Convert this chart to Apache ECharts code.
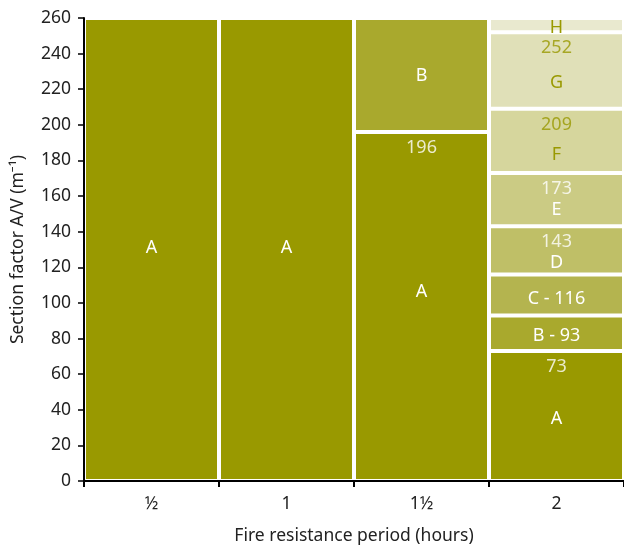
<!DOCTYPE html>
<html>
<head>
<meta charset="utf-8">
<script src="https://cdn.jsdelivr.net/npm/echarts@6/dist/echarts.min.js"></script>
<style>
  html, body { margin: 0; padding: 0; background: #fff; }
  #chart { width: 624px; height: 547px; }
</style>
</head>
<body>
<div id="chart"></div>
<script>
// Fire resistance periods (hours)
const periods = ['½', '1', '1½', '2'];

// Protection zones, bottom to top
const zoneNames = ['A', 'B', 'C', 'D', 'E', 'F', 'G', 'H'];

// Upper section-factor limit of each zone for each period (m⁻¹)
const zoneTopsHalfHour = [260];
const zoneTopsOneHour = [260];
const zoneTopsOneAndHalfHours = [196, 260];
const zoneTopsTwoHours = [73, 93, 116, 143, 173, 209, 252, 260];

// Limits printed just below a zone boundary
const printedLimitsOneAndHalfHours = [196];
const printedLimitsTwoHours = [73, 143, 173, 209, 252];
// Limits printed next to the zone letter
const inlineLimitsTwoHours = [93, 116];

const zoneTops = [zoneTopsHalfHour, zoneTopsOneHour, zoneTopsOneAndHalfHours, zoneTopsTwoHours];
const printedLimits = [[], [], printedLimitsOneAndHalfHours, printedLimitsTwoHours];
const inlineLimits = [[], [], [], inlineLimitsTwoHours];

// Styling
const zoneColors = ['#999900', '#a9a92d', '#b4b44f', '#bfbf67', '#cbcb84', '#d6d69d', '#e0e0b8', '#e9e9cf'];
const OLIVE = '#999900';
const LIGHT_ZONE_FROM = 5; // zones F and up carry olive text
const FONT = '"Noto Sans", Lato, sans-serif';
const AXIS_FS = 17.5;
const MARK_FS = 18;
// vertical nudge of the zone letter inside its block, per period
const letterShift = [
  [-2],
  [-2],
  [-15, 1],
  [3, 3, 4, 12, 10, 14, 12, 3]
];

const textColorForZone = z => (z >= LIGHT_ZONE_FROM ? OLIVE : '#ffffff');

const barSeries = zoneNames.map((name, z) => ({
  type: 'bar',
  name: name,
  stack: 'zones',
  barCategoryGap: '0%',
  itemStyle: { color: zoneColors[z], borderColor: '#ffffff', borderWidth: 2 },
  label: {
    show: true,
    position: 'inside',
    fontFamily: FONT,
    fontSize: MARK_FS,
    color: textColorForZone(z)
  },
  emphasis: { disabled: true },
  data: zoneTops.map((tops, c) => {
    if (z >= tops.length) return '-';
    const low = z === 0 ? 0 : tops[z - 1];
    const top = tops[z];
    const inline = inlineLimits[c].includes(top);
    return {
      value: top - low,
      label: {
        formatter: inline ? name + ' - ' + top : name,
        offset: [0, (letterShift[c] && letterShift[c][z]) || 0]
      }
    };
  })
}));

// Limit values written beneath each boundary
const limitPoints = [];
printedLimits.forEach((limits, c) => {
  limits.forEach(v => {
    const zoneBelow = zoneTops[c].indexOf(v);
    limitPoints.push({
      value: [c, v],
      label: { color: textColorForZone(zoneBelow) }
    });
  });
});

const limitSeries = {
  type: 'scatter',
  symbolSize: 0,
  silent: true,
  z: 5,
  label: {
    show: true,
    position: 'bottom',
    distance: 7,
    fontFamily: FONT,
    fontSize: MARK_FS,
    formatter: p => String(p.value[1])
  },
  data: limitPoints
};

const chart = echarts.init(document.getElementById('chart'), null, { renderer: 'canvas' });
chart.setOption({
  animation: false,
  backgroundColor: '#ffffff',
  grid: { left: 84, right: 0, top: 18, bottom: 66, containLabel: false, outerBoundsMode: 'none' },
  xAxis: {
    type: 'category',
    data: periods,
    name: 'Fire resistance period (hours)',
    nameLocation: 'middle',
    nameGap: 46,
    nameTextStyle: { fontFamily: FONT, fontSize: AXIS_FS, color: '#222' },
    axisLine: { lineStyle: { color: '#000', width: 2 } },
    axisTick: { show: true, length: 6, lineStyle: { color: '#000', width: 2 } },
    axisLabel: { fontFamily: FONT, fontSize: AXIS_FS, color: '#222', margin: 14 },
    splitLine: { show: false },
    z: 10
  },
  yAxis: {
    type: 'value',
    min: 0,
    max: 260,
    interval: 20,
    name: 'Section factor A/V (m⁻¹)',
    nameLocation: 'middle',
    nameGap: 57,
    nameRotate: 90,
    nameTextStyle: { fontFamily: FONT, fontSize: AXIS_FS, color: '#222' },
    axisLine: { show: true, lineStyle: { color: '#000', width: 2 } },
    axisTick: { show: true, length: 6, lineStyle: { color: '#000', width: 1.5 } },
    axisLabel: { fontFamily: FONT, fontSize: AXIS_FS, color: '#222', margin: 13 },
    splitLine: { show: false },
    z: 10
  },
  series: [...barSeries, limitSeries]
});
</script>
</body>
</html>
